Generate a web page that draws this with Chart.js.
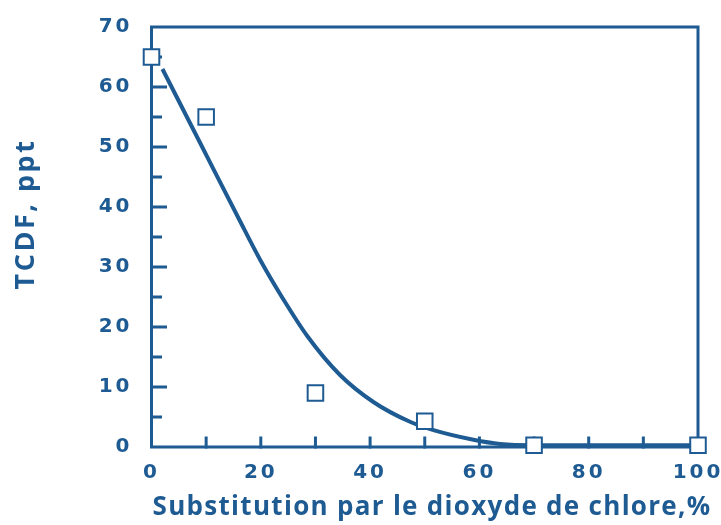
<!DOCTYPE html>
<html>
<head>
<meta charset="utf-8">
<script src="https://cdn.jsdelivr.net/npm/chart.js@4/dist/chart.umd.min.js"></script>
<style>
  html, body { margin: 0; padding: 0; background: #fff; }
  #wrap { width: 721px; height: 525px; position: relative; }
</style>
</head>
<body>
<div id="wrap"><canvas id="chart"></canvas></div>
<script>
// measured points (open squares)
const measX = [0, 10, 30, 50, 70, 100];
const measY = [65, 55, 9, 4.3, 0.3, 0.3];

// fitted curve
const fitX = [2, 9, 16, 20, 24, 28.5, 34.5, 40.6, 47.3, 51.6, 58.9, 63.8, 70, 80, 90, 99];
const fitY = [63, 50.5, 38, 31, 24.8, 18.5, 12, 7.5, 4.2, 2.8, 1.2, 0.5, 0.3, 0.3, 0.3, 0.3];

const xTitle = 'Substitution par le dioxyde de chlore,%';
const yTitle = 'TCDF, ppt';

const BLUE = '#1f5b93';

// frame + inward tick marks + titles
const framePlugin = {
  id: 'frame',
  beforeDraw(chart) {
    chart.ctx.letterSpacing = '3px';
  },
  beforeDatasetsDraw(chart) {
    const { ctx, chartArea: a, scales: { x, y } } = chart;
    ctx.save();
    ctx.strokeStyle = BLUE;
    ctx.lineWidth = 3;
    ctx.lineCap = 'square';
    ctx.strokeRect(a.left, a.top, a.right - a.left, a.bottom - a.top);
    for (let v = 5; v < y.max; v += 5) {
      const py = y.getPixelForValue(v);
      const len = v % 10 === 0 ? 14 : 9;
      ctx.beginPath(); ctx.moveTo(a.left, py); ctx.lineTo(a.left + len, py); ctx.stroke();
    }
    for (let v = 10; v < x.max; v += 10) {
      const px = x.getPixelForValue(v);
      ctx.beginPath(); ctx.moveTo(px, a.bottom); ctx.lineTo(px, a.bottom - 9); ctx.stroke();
    }
    ctx.restore();
  },
  afterDraw(chart) {
    const { ctx } = chart;
    ctx.save();
    ctx.fillStyle = BLUE;
    ctx.textAlign = 'center';
    ctx.textBaseline = 'middle';
    ctx.letterSpacing = '1.3px';
    ctx.font = 'bold 26px "Open Sans"';
    ctx.fillText(xTitle, 432, 508);
    ctx.translate(26, 214);
    ctx.rotate(-Math.PI / 2);
    ctx.letterSpacing = '2.5px';
    ctx.font = 'bold 27px "Open Sans"';
    ctx.fillText(yTitle, 0, 0);
    ctx.restore();
  }
};

new Chart(document.getElementById('chart'), {
  type: 'scatter',
  data: {
    datasets: [
      {
        label: 'mesures',
        data: measX.map((v, i) => ({ x: v, y: measY[i] })),
        pointStyle: 'rect',
        pointRadius: 11,
        pointBorderWidth: 2,
        pointBackgroundColor: '#fff',
        pointBorderColor: BLUE,
        showLine: false,
        clip: false
      },
      {
        label: 'courbe',
        data: fitX.map((v, i) => ({ x: v, y: fitY[i] })),
        showLine: true,
        borderColor: BLUE,
        borderWidth: 4,
        pointRadius: 0,
        cubicInterpolationMode: 'monotone'
      }
    ]
  },
  options: {
    responsive: true,
    maintainAspectRatio: false,
    animation: false,
    layout: { padding: { top: 27, right: 23, left: 0, bottom: 0 } },
    plugins: { legend: { display: false }, tooltip: { enabled: false } },
    scales: {
      x: {
        type: 'linear',
        min: 0, max: 100,
        grid: { display: false, drawTicks: false },
        border: { display: false },
        ticks: {
          stepSize: 20, padding: 14, color: BLUE,
          font: { family: '"DejaVu Sans"', weight: 'bold', size: 20 },
          maxRotation: 0
        },
        afterFit(s) { s.height = 78; s.paddingLeft = 0; s.paddingRight = 0; }
      },
      y: {
        type: 'linear',
        min: 0, max: 70,
        grid: { display: false, drawTicks: false },
        border: { display: false },
        ticks: {
          stepSize: 10, padding: 19, color: BLUE,
          font: { family: '"DejaVu Sans"', weight: 'bold', size: 20 }
        },
        afterFit(s) { s.width = 151.5; s.paddingTop = 0; s.paddingBottom = 0; }
      }
    }
  },
  plugins: [framePlugin]
});
</script>
</body>
</html>
